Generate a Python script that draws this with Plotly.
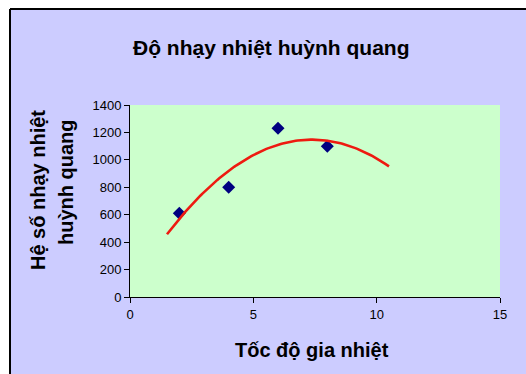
import numpy as np
import plotly.graph_objects as go

# Measured data: heating rate vs. thermoluminescence sensitivity
heating_rate = [2, 4, 6, 8]
sensitivity = [610, 800, 1230, 1100]

# Second-order polynomial trendline, extended past the data range
trend_coef = np.polyfit(heating_rate, sensitivity, 2)
trend_x = np.linspace(1.5, 10.5, 120)
trend_y = np.polyval(trend_coef, trend_x)

x_ticks = [0, 5, 10, 15]
y_ticks = [0, 200, 400, 600, 800, 1000, 1200, 1400]

W, H = 526, 374
PL, PR, PT, PB = 130, 500, 105, 297


def px(x):
    return (x - PL) / (PR - PL)


def py(y):
    return (PB - y) / (PB - PT)


FONT = "Liberation Sans, Arial, sans-serif"
LAVENDER = "#CCCCFF"
GREEN = "#CCFFCC"

fig = go.Figure()
fig.add_trace(go.Scatter(
    x=heating_rate, y=sensitivity, mode="markers",
    marker=dict(symbol="diamond", size=10, color="#000080"),
    showlegend=False, hoverinfo="skip",
))
fig.add_trace(go.Scatter(
    x=trend_x, y=trend_y, mode="lines",
    line=dict(color="#EE1A10", width=2.6),
    showlegend=False, hoverinfo="skip",
))

axis_common = dict(
    showgrid=False, zeroline=False, showline=True, linecolor="black",
    linewidth=1, ticks="outside", ticklen=5, tickwidth=1, tickcolor="black",
    tickfont=dict(family=FONT, size=13, color="black"),
)
fig.update_xaxes(range=[0, 15], tickvals=x_ticks, **axis_common)
fig.update_yaxes(range=[0, 1400], tickvals=y_ticks, **axis_common)

# White strip outside the chart frame, plus the frame's top and left edges
shapes = [
    dict(type="rect", xref="paper", yref="paper", x0=px(0), x1=px(10),
         y0=py(H), y1=py(0), fillcolor="white", line_width=0, layer="below"),
    dict(type="rect", xref="paper", yref="paper", x0=px(0), x1=px(W),
         y0=py(9), y1=py(0), fillcolor="white", line_width=0, layer="below"),
    dict(type="line", xref="paper", yref="paper", x0=px(10), x1=px(W),
         y0=py(9), y1=py(9), line=dict(color="black", width=2)),
    dict(type="line", xref="paper", yref="paper", x0=px(10), x1=px(10),
         y0=py(9), y1=py(H), line=dict(color="black", width=2)),
]

title_font = dict(family=FONT, size=20, color="black", weight="bold")
annotations = [
    dict(text="Độ nhạy nhiệt huỳnh quang", x=px(271), y=py(47),
         xref="paper", yref="paper", showarrow=False,
         xanchor="center", yanchor="middle",
         font=dict(title_font, size=21)),
    dict(text="Tốc độ gia nhiệt", x=px(312), y=py(350),
         xref="paper", yref="paper", showarrow=False,
         xanchor="center", yanchor="middle", font=title_font),
    dict(text="Hệ số nhạy nhiệt", x=px(38), y=py(190), textangle=-90,
         xref="paper", yref="paper", showarrow=False,
         xanchor="center", yanchor="middle", font=title_font),
    dict(text="huỳnh quang", x=px(66), y=py(182), textangle=-90,
         xref="paper", yref="paper", showarrow=False,
         xanchor="center", yanchor="middle", font=title_font),
]

fig.update_layout(
    width=W, height=H,
    margin=dict(l=PL, r=W - PR, t=PT, b=H - PB),
    paper_bgcolor=LAVENDER, plot_bgcolor=GREEN,
    shapes=shapes, annotations=annotations,
)

fig.write_html("out.html")
